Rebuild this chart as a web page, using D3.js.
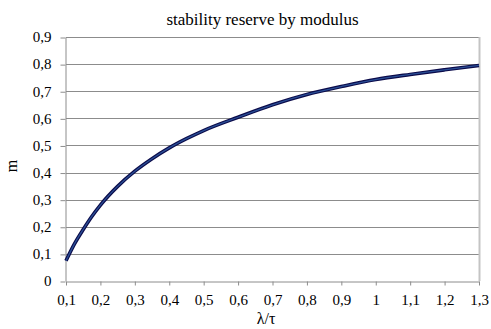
<!DOCTYPE html>
<html><head><meta charset="utf-8">
<script src="https://cdn.jsdelivr.net/npm/d3@7"></script>
<style>body{margin:0;background:#fff}svg{display:block}</style>
</head><body>
<script>
const title = "stability reserve by modulus";
const xLabel = "λ/τ";
const yLabel = "m";
const xTicks = [0.1,0.2,0.3,0.4,0.5,0.6,0.7,0.8,0.9,1.0,1.1,1.2,1.3];
const yTicks = [0,0.1,0.2,0.3,0.4,0.5,0.6,0.7,0.8,0.9];
const xs = [0.1,0.125,0.15,0.175,0.2,0.25,0.3,0.35,0.4,0.45,0.5,0.6,0.7,0.8,0.9,1.0,1.1,1.2,1.3];
const ms = [0.075,0.138,0.19,0.238,0.28,0.349,0.405,0.451,0.491,0.525,0.555,0.604,0.65,0.688,0.717,0.743,0.762,0.779,0.795];

const W=491,H=329;
const L=66,R=479,T=37,B=281;
const font='"Times New Roman", serif';
const svg=d3.select("body").append("svg").attr("width",W).attr("height",H).attr("font-family",font);
const x=d3.scaleLinear().domain([0.1,1.3]).range([L,R]);
const y=d3.scaleLinear().domain([0,0.9]).range([B,T]);
const fmt=d=>String(+d.toFixed(1)).replace(".",",");

// gridlines
svg.append("g").selectAll("line").data(yTicks.filter(d=>d>0)).join("line")
 .attr("x1",L).attr("x2",R).attr("y1",d=>Math.round(y(d))+0.5).attr("y2",d=>Math.round(y(d))+0.5)
 .attr("stroke","#8c8c8c").attr("stroke-width",1);
// right border
svg.append("line").attr("x1",R+0.5).attr("x2",R+0.5).attr("y1",T).attr("y2",B).attr("stroke","#c4c4c4").attr("stroke-width",2);

const xa=svg.append("g").attr("transform",`translate(0,${Math.round(B)+0.5})`)
 .call(d3.axisBottom(x).tickValues(xTicks).tickFormat(fmt).tickSize(4).tickSizeOuter(0).tickPadding(9));
const ya=svg.append("g").attr("transform",`translate(${L-0.5},0)`)
 .call(d3.axisLeft(y).tickValues(yTicks).tickFormat(fmt).tickSize(5).tickSizeOuter(0).tickPadding(9));
[xa,ya].forEach(a=>{
  a.attr("font-family",font);
  a.selectAll("path,line").attr("stroke","#8c8c8c");
  a.selectAll("text").attr("fill","#000").attr("font-family",font).attr("font-size",15);
});
ya.selectAll(".tick line").attr("transform","translate(0,0.5)");

// curve
const line=d3.line().x((d,i)=>x(xs[i])).y(d=>y(d)).curve(d3.curveMonotoneX);
svg.append("path").attr("d",line(ms)).attr("fill","none").attr("stroke","#0b0b4a").attr("stroke-width",3.6);
svg.append("path").attr("d",line(ms)).attr("fill","none").attr("stroke","#2a4f96").attr("stroke-width",1.3);

svg.append("text").attr("x",262.5).attr("y",25).attr("text-anchor","middle")
 .attr("font-family",font).attr("font-size",17).text(title);
svg.append("text").attr("x",266).attr("y",324).attr("text-anchor","middle")
 .attr("font-family",font).attr("font-size",16).text(xLabel);
svg.append("text").attr("transform","translate(17,166) rotate(-90)").attr("text-anchor","middle")
 .attr("font-family",font).attr("font-size",16).text(yLabel);
</script>
</body></html>
